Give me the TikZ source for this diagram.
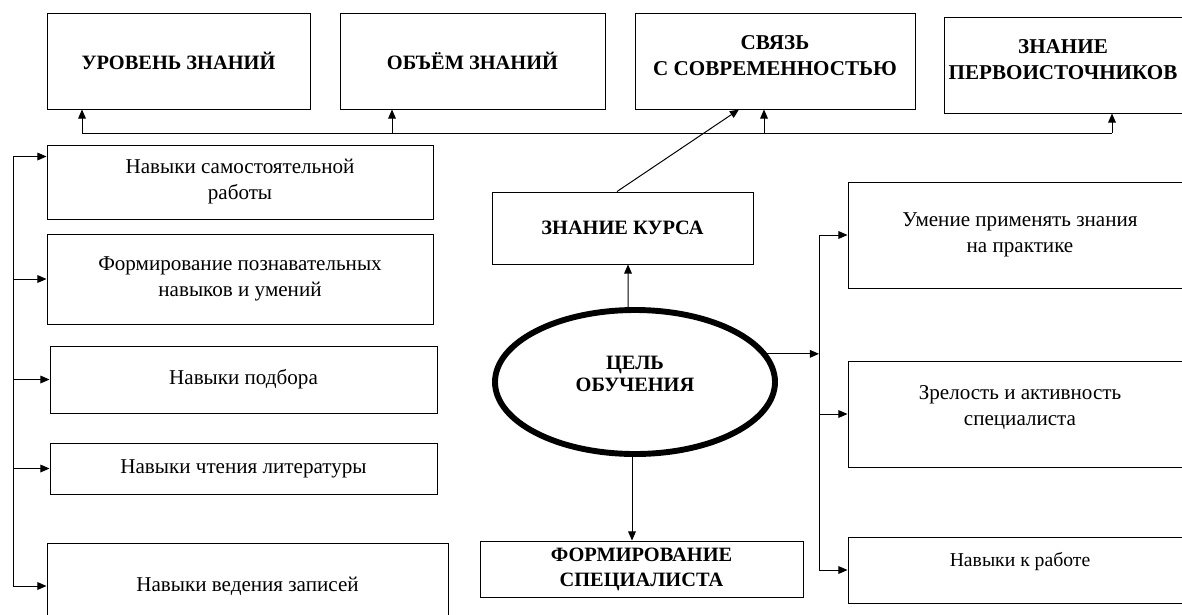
\documentclass[tikz,border=0pt]{standalone}
\usepackage{fontspec}
\setmainfont{Liberation Serif}[BoldFont={Liberation Serif Bold}]
\usetikzlibrary{arrows.meta,positioning,calc,shapes.geometric}

\newcommand{\pxu}{0.025cm}

\tikzset{
  box/.style={draw, line width=0.7pt, align=center, inner sep=0pt},
  capsbox/.style={box, font=\fontsize{14.5}{17.8}\selectfont\bfseries},
  skillbox/.style={box, font=\fontsize{15}{18.5}\selectfont},
  link/.style={line width=0.7pt},
  arr/.style={link, -{Triangle[length=6.5pt,width=5.5pt]}},
  arrboth/.style={link, {Triangle[length=6.5pt,width=5.5pt]}-{Triangle[length=6.5pt,width=5.5pt]}},
}

\begin{document}
\begin{tikzpicture}[x=0.025cm, y=-0.025cm]
  \useasboundingbox (0,0) rectangle (1182,614);
  \clip (0,0) rectangle (1182,614);

  % top row
  \node[capsbox, minimum width=263*\pxu, minimum height=96*\pxu] (lvl) at (178.5,61) {УРОВЕНЬ ЗНАНИЙ};
  \node[capsbox, minimum width=265*\pxu, minimum height=96*\pxu] (vol) at (472.5,61) {ОБЪЁМ ЗНАНИЙ};
  \node[capsbox, font=\fontsize{15}{17.8}\selectfont\bfseries, minimum width=280*\pxu, minimum height=96*\pxu, text depth=7.8pt] (mod) at (775,61) {СВЯЗЬ\\С СОВРЕМЕННОСТЬЮ};
  \node[capsbox, font=\fontsize{15}{17.8}\selectfont\bfseries, minimum width=238*\pxu, minimum height=96*\pxu, text depth=7.8pt] (src) at (1063,65) {ЗНАНИЕ\\ПЕРВОИСТОЧНИКОВ};

  % left column
  \node[skillbox, minimum width=386*\pxu, minimum height=74*\pxu] (l1) at (240,182) {Навыки самостоятельной\\работы};
  \node[skillbox, minimum width=386*\pxu, minimum height=90*\pxu] (l2) at (240,279) {Формирование познавательных\\навыков и умений};
  \node[skillbox, minimum width=387*\pxu, minimum height=67*\pxu] (l3) at (243.5,379.5) {Навыки подбора};
  \node[skillbox, minimum width=387*\pxu, minimum height=51*\pxu] (l4) at (243.5,468.5) {Навыки чтения литературы};
  \node[skillbox, minimum width=401*\pxu, minimum height=86*\pxu] (l5) at (247.5,586) {Навыки ведения записей};

  % centre
  \node[capsbox, minimum width=261*\pxu, minimum height=72*\pxu] (kurs) at (622.5,228) {ЗНАНИЕ КУРСА};
  \node[ellipse, draw, line width=4.2pt, inner sep=0pt, align=center,
        font=\fontsize{14.5}{16}\selectfont\bfseries, text depth=11.4pt,
        minimum width=280*\pxu, minimum height=144*\pxu] (goal) at (635,382) {ЦЕЛЬ\\ОБУЧЕНИЯ};
  \node[capsbox, minimum width=323*\pxu, minimum height=56*\pxu] (form) at (641.5,569) {ФОРМИРОВАНИЕ\\СПЕЦИАЛИСТА};

  % right column
  \node[skillbox, minimum width=344*\pxu, minimum height=106*\pxu] (r1) at (1020,235) {Умение применять знания\\на практике};
  \node[skillbox, minimum width=344*\pxu, minimum height=106*\pxu, text depth=12pt] (r2) at (1020,414) {Зрелость и активность\\специалиста};
  \node[skillbox, font=\fontsize{14}{17}\selectfont, minimum width=344*\pxu, minimum height=66*\pxu, text depth=15.7pt] (r3) at (1020,570) {Навыки к работе};

  % bus under the top row
  \foreach \b/\x in {lvl/82,vol/392,mod/764,src/1112}{
    \coordinate (bus-\b) at (\x,133);
    \draw[arr] (bus-\b) -- (bus-\b |- \b.south);
  }
  \draw[link] (bus-lvl) -- (bus-src);
  \draw[arr] ($(kurs.north)+(-5.5,0)$) -- ($(mod.south)+(-36,0)$);

  % goal links
  \draw[arr] ($(goal.north)+(-7,0)$) -- ($(kurs.south)+(5.5,0)$);
  \draw[arr] ($(goal.south)+(-3,0)$) -- ($(form.north)+(-9.5,0)$);

  % left spine
  \coordinate (lsp) at (13,0);
  \draw[arrboth] ($(l1.north west)+(0,12)$) -| (l5.west -| lsp) -- (l5.west);
  \foreach \b in {l2,l3,l4}
    \draw[arr] (\b.west -| lsp) -- (\b.west);

  % right spine
  \coordinate (rsp) at (819,0);
  \draw[arr] (goal.12) -- (goal.12 -| rsp);
  \draw[arrboth] (r1.west) -| (r3.west -| rsp) -- (r3.west);
  \draw[arr] (r2.west -| rsp) -- (r2.west);
\end{tikzpicture}
\end{document}
